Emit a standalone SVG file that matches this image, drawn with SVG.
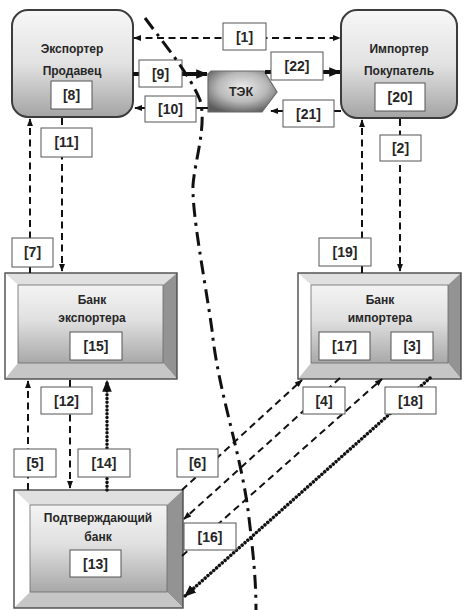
<svg xmlns="http://www.w3.org/2000/svg" width="474" height="610" viewBox="0 0 474 610">
<defs>
<style>
.nt{font-family:"Liberation Sans",Arial,sans-serif;font-weight:bold;font-size:12px;fill:#262626;text-anchor:middle}
.lt{font-family:"Liberation Sans",Arial,sans-serif;font-weight:bold;font-size:14px;fill:#262626;text-anchor:middle}
.lb{fill:#fff;stroke:#555;stroke-width:1}
.da{fill:none;stroke:#111;stroke-width:2;stroke-dasharray:7 4.5}
.th{fill:none;stroke:#111;stroke-width:4}
.dt{fill:none;stroke:#111;stroke-width:3.5;stroke-dasharray:0.01 3.8;stroke-linecap:round}
.bt{fill:#e0e0e0}.bl{fill:#fff}.br{fill:#939393}.bb{fill:#c6c6c6}
.bo{fill:none;stroke:#4a4a4a;stroke-width:1.4}
</style>
<linearGradient id="g1" x1="0" y1="0" x2="0" y2="1">
<stop offset="0" stop-color="#f7f7f7"/><stop offset="0.5" stop-color="#e2e2e2"/><stop offset="1" stop-color="#a4a4a4"/>
</linearGradient>
<linearGradient id="g2" x1="0" y1="0" x2="0" y2="1">
<stop offset="0" stop-color="#f4f4f4"/><stop offset="0.45" stop-color="#e0e0e0"/><stop offset="1" stop-color="#a8a8a8"/>
</linearGradient>
<radialGradient id="g3" cx="0.5" cy="0.4" r="0.65">
<stop offset="0" stop-color="#ececec"/><stop offset="0.55" stop-color="#b8b8b8"/><stop offset="1" stop-color="#5c5c5c"/>
</radialGradient>
<marker id="ah" viewBox="0 0 10 10" refX="9" refY="5" markerWidth="8" markerHeight="8" markerUnits="userSpaceOnUse" orient="auto-start-reverse"><path d="M0,1.2 L10,5 L0,8.8 z" fill="#111"/></marker>
<marker id="ahb" viewBox="0 0 10 10" refX="9" refY="5" markerWidth="12" markerHeight="12" markerUnits="userSpaceOnUse" orient="auto"><path d="M0,1 L10,5 L0,9 z" fill="#111"/></marker>
</defs>
<rect width="474" height="610" fill="#fff"/>

<g id="exporter">
<rect x="12" y="10" width="121" height="107" rx="16" fill="url(#g1)" stroke="#3c3c3c" stroke-width="2"/>
<text class="nt" x="72" y="53">Экспортер</text>
<text class="nt" x="72" y="75">Продавец</text>
</g>
<g id="importer">
<rect x="341" y="10" width="116" height="108" rx="16" fill="url(#g1)" stroke="#3c3c3c" stroke-width="2"/>
<text class="nt" x="399" y="53">Импортер</text>
<text class="nt" x="399" y="75">Покупатель</text>
</g>
<g id="tek">
<polygon points="211,71 264,71 277,92 262,112 208,112 208,74" fill="url(#g3)" stroke="#6a6a6a" stroke-width="1.2"/>
<text class="nt" x="241" y="96" style="font-size:12.5px">ТЭК</text>
</g>
<g id="bank-exporter">
<polygon class="bt" points="5,273 177,273 163,285 18,285"/>
<polygon class="bl" points="5,273 18,285 18,363 5,379"/>
<polygon class="br" points="177,273 177,379 163,363 163,285"/>
<polygon class="bb" points="5,379 18,363 163,363 177,379"/>
<rect x="18" y="285" width="145" height="78" fill="url(#g2)" stroke="#6a6a6a" stroke-width="0.8"/>
<rect class="bo" x="5" y="273" width="172" height="106"/>
<text class="nt" x="92" y="304">Банк</text>
<text class="nt" x="92" y="322">экспортера</text>
</g>
<g id="bank-importer">
<polygon class="bt" points="298,273 461,273 448,285 311,285"/>
<polygon class="bl" points="298,273 311,285 311,363 298,379"/>
<polygon class="br" points="461,273 461,379 448,363 448,285"/>
<polygon class="bb" points="298,379 311,363 448,363 461,379"/>
<rect x="311" y="285" width="137" height="78" fill="url(#g2)" stroke="#6a6a6a" stroke-width="0.8"/>
<rect class="bo" x="298" y="273" width="163" height="106"/>
<text class="nt" x="380" y="304">Банк</text>
<text class="nt" x="380" y="322">импортера</text>
</g>
<g id="bank-confirming">
<polygon class="bt" points="14,490 183,490 167,505 30,505"/>
<polygon class="bl" points="14,490 30,505 30,592 14,608"/>
<polygon class="br" points="183,490 183,608 167,592 167,505"/>
<polygon class="bb" points="14,608 30,592 167,592 183,608"/>
<rect x="30" y="505" width="137" height="87" fill="url(#g2)" stroke="#6a6a6a" stroke-width="0.8"/>
<rect class="bo" x="14" y="490" width="169" height="118"/>
<text class="nt" x="98" y="522">Подтверждающий</text>
<text class="nt" x="98" y="541">банк</text>
</g>

<g id="connectors">
<line class="da" x1="134" y1="38" x2="340" y2="38" marker-start="url(#ah)" marker-end="url(#ah)"/>
<line class="th" x1="133" y1="74" x2="207" y2="74" marker-end="url(#ahb)"/>
<line class="th" x1="265" y1="72" x2="340" y2="72" marker-end="url(#ahb)"/>
<line stroke="#111" stroke-width="2" x1="208" y1="108" x2="135" y2="108" marker-end="url(#ah)"/>
<line stroke="#111" stroke-width="2" x1="341" y1="111" x2="271" y2="111" marker-end="url(#ah)"/>
<line class="da" x1="62" y1="118" x2="62" y2="271" marker-end="url(#ah)"/>
<line class="da" x1="30" y1="273" x2="30" y2="119" marker-end="url(#ah)"/>
<line class="da" x1="400" y1="119" x2="400" y2="271" marker-end="url(#ah)"/>
<line class="da" x1="362" y1="273" x2="362" y2="120" marker-end="url(#ah)"/>
<line class="da" x1="28" y1="490" x2="28" y2="381" marker-end="url(#ah)"/>
<line class="da" x1="70" y1="380" x2="70" y2="488" marker-end="url(#ah)"/>
<line class="dt" x1="107" y1="490" x2="107" y2="381" marker-end="url(#ahb)"/>
<line class="da" x1="182" y1="490" x2="302" y2="380" marker-end="url(#ah)"/>
<line class="da" x1="340" y1="378" x2="184" y2="519" marker-end="url(#ah)"/>
<line class="da" x1="182" y1="556" x2="382" y2="379" marker-end="url(#ah)"/>
<line class="dt" x1="430" y1="378" x2="185" y2="596" marker-end="url(#ahb)"/>
</g>

<g id="labels">
<rect class="lb" x="51" y="81" width="41" height="28"/><text class="lt" x="71.5" y="100">[8]</text>
<rect class="lb" x="375" y="83" width="50" height="28"/><text class="lt" x="400" y="102">[20]</text>
<rect class="lb" x="223" y="23" width="43" height="27"/><text class="lt" x="244.5" y="41.5">[1]</text>
<rect class="lb" x="139" y="60" width="43" height="27"/><text class="lt" x="160.5" y="78.5">[9]</text>
<rect class="lb" x="145" y="96" width="51" height="26"/><text class="lt" x="170.5" y="114">[10]</text>
<rect class="lb" x="271" y="52" width="52" height="28"/><text class="lt" x="297" y="71">[22]</text>
<rect class="lb" x="283" y="100" width="51" height="27"/><text class="lt" x="308.5" y="118.5">[21]</text>
<rect class="lb" x="41" y="128" width="51" height="29"/><text class="lt" x="66.5" y="147">[11]</text>
<rect class="lb" x="380" y="135" width="41" height="26"/><text class="lt" x="400.5" y="153">[2]</text>
<rect class="lb" x="12" y="238" width="41" height="29"/><text class="lt" x="32.5" y="257">[7]</text>
<rect class="lb" x="319" y="238" width="52" height="28"/><text class="lt" x="345" y="257">[19]</text>
<rect class="lb" x="70" y="332" width="52" height="28"/><text class="lt" x="96" y="351">[15]</text>
<rect class="lb" x="319" y="332" width="51" height="28"/><text class="lt" x="344.5" y="351">[17]</text>
<rect class="lb" x="391" y="332" width="42" height="28"/><text class="lt" x="412" y="351">[3]</text>
<rect class="lb" x="41" y="387" width="51" height="27"/><text class="lt" x="66.5" y="405.5">[12]</text>
<rect class="lb" x="303" y="387" width="42" height="27"/><text class="lt" x="324" y="405.5">[4]</text>
<rect class="lb" x="385" y="387" width="51" height="27"/><text class="lt" x="410.5" y="405.5">[18]</text>
<rect class="lb" x="14" y="449" width="42" height="28"/><text class="lt" x="35" y="468">[5]</text>
<rect class="lb" x="78" y="449" width="52" height="28"/><text class="lt" x="104" y="468">[14]</text>
<rect class="lb" x="177" y="449" width="41" height="28"/><text class="lt" x="197.5" y="468">[6]</text>
<rect class="lb" x="184" y="523" width="52" height="27"/><text class="lt" x="210" y="541.5">[16]</text>
<rect class="lb" x="70" y="550" width="51" height="27"/><text class="lt" x="95.5" y="568.5">[13]</text>
</g>

<path id="border" d="M145,18 C165,45 190,75 200,100 C207,125 195,160 193,185 C192,215 205,280 212,330 C218,390 240,450 248,510 C253,550 256,580 256,610" fill="none" stroke="#111" stroke-width="3" stroke-dasharray="14 6 3 6"/>
</svg>
